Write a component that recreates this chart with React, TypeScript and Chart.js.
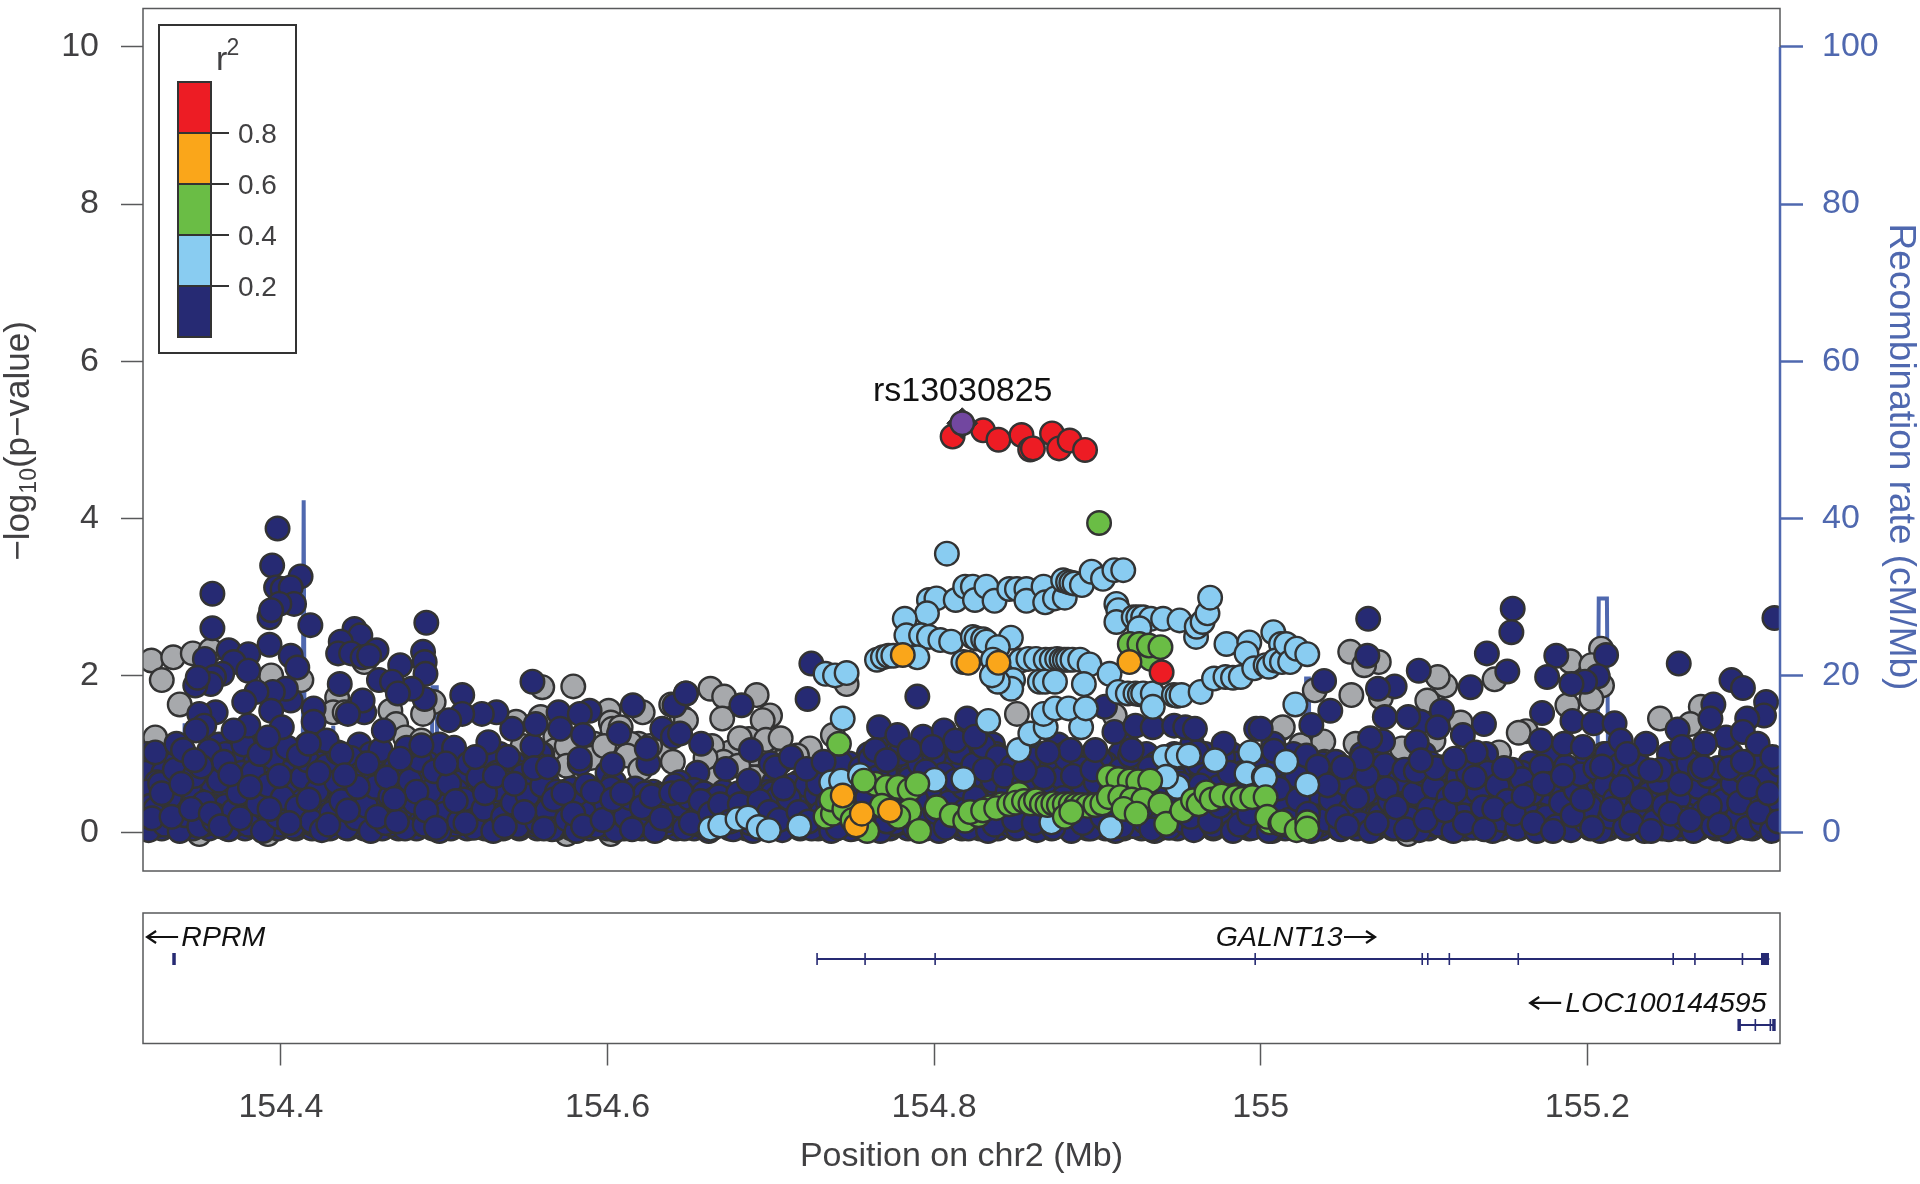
import { useEffect, useRef } from "react";
import { Chart, registerables } from "chart.js";
Chart.register(...registerables);

// positions are kb past 154 Mb, values are -log10(p)
const leadSnp = [[817.2, 5.21]];
const redSnps = [[811.3,5.04],[830,5.12],[839.4,5],[853.5,5.06],[858.8,4.875],[860.5,4.89],[872.2,5.08],[876.5,4.89],[883,4.99],[892.4,4.87],[939.3,2.04]];
const orangeSnps = [[780.8,2.26],[820.9,2.16],[839.4,2.16],[919.6,2.17],[752.2,0.09],[744,0.47],[755.7,0.24],[772.9,0.28]];
const greenSnps = [[901,3.94],[919.8,2.4],[925.7,2.4],[932.7,2.21],[931.5,2.38],[938.6,2.36],[741.7,1.13],
[733.5,0.2],[738,0.24],[737,0.42],[745,0.3],[750,0.16],[759,0.02],[764,0.62],[757,0.66],[771,0.58],[778,0.58],[785,0.54],[789.7,0.62],[785,0.28],[790.9,0.02],[768,0.34],[778,0.2],
[801.5,0.32],[810.8,0.22],[819,0.15],[827.2,0.22],[822,0.26],[834.3,0.32],[830,0.28],[841.3,0.36],[838,0.31],[846,0.36],[851.8,0.49],[850,0.38],[855,0.4],[859,0.37],[862.4,0.41],[866,0.36],[869.4,0.35],[873,0.37],[876.4,0.35],[880,0.36],[883.7,0.36],[887,0.35],[890.5,0.35],[894,0.34],[898.7,0.35],[903,0.37],
[906.9,0.71],[912.8,0.68],[919.8,0.66],[925,0.65],[932.3,0.66],[907,0.45],[914,0.45],[921,0.42],[928,0.41],[938.6,0.36],[916,0.3],[924,0.24],[880,0.2],[884,0.26],[942.1,0.11],[952,0.28],[958.5,0.41],[962,0.36],[966.7,0.51],[970,0.42],[976,0.47],[984.3,0.45],[989,0.43],[994.8,0.45],[1003,0.45],[1005.4,0.13],[1004,0.2],[1012,0.11],[1013,0.13],[1022,0.03],[1028.5,0.13],[1028.5,0.05]];
const lightBlueSnps = [[807.8,3.55],
[796.8,2.96],[801.4,2.98],[813.2,2.96],[819,3.13],[823.7,3.13],[825,2.96],[832,3.13],[837,2.95],[846,3.1],[850.7,3.1],[856.5,3.1],[856.5,2.95],[867,3.13],[868,2.93],[874,2.98],[880,2.99],[879,3.21],[882,3.19],[884,3.18],[886,3.17],[890.5,3.15],[896.4,3.32],[903.4,3.23],[910.4,3.34],[915.8,3.34],
[795.6,2.79],[782,2.72],[783,2.51],[792,2.51],[796.8,2.49],[803.8,2.45],[810.4,2.43],[823.7,2.49],[826,2.47],[830,2.46],[832,2.43],[847,2.48],[839,2.36],[836,2.2],
[765,2.2],[768.6,2.23],[772,2.25],[775,2.25],[789.7,2.23],[817.9,2.17],[853,2.19],[857.7,2.21],[862.4,2.21],[868.3,2.2],[872,2.2],[875.3,2.21],[878,2.2],[880,2.2],[882,2.2],[884.7,2.2],[889.4,2.2],[895.2,2.14],[907.4,2.02],
[848.3,1.94],[847.2,1.83],[839,1.92],[835.4,2],[864.7,1.92],[868,1.92],[874,1.92],[891.7,1.89],
[911.6,2.91],[912.8,2.83],[911.6,2.68],[922.2,2.74],[925,2.74],[928,2.74],[932.7,2.72],[940.2,2.72],[950.3,2.7],[960.4,2.49],[960.8,2.62],[964.4,2.68],[967.4,2.79],[969,2.99],[925.7,2.6],[979,2.4],[993,2.42],[1007.7,2.55],[1012.4,2.4],[991.3,2.28],
[733.5,2.02],[739.3,2],[746.4,2.03],[744,1.45],
[833.1,1.42],[851.8,1.05],[858.9,1.26],[868.3,1.34],[890,1.34],[867,1.51],[874.1,1.58],[882.3,1.58],[892.9,1.58],
[912.8,1.79],[918.6,1.77],[923.3,1.77],[926,1.76],[928,1.77],[933.9,1.77],[933.9,1.6],[946.8,1.75],[949,1.74],[951.5,1.75],[963.2,1.79],[971.4,1.96],[978.4,1.98],[983,1.97],[987.8,1.98],[996,2.09],[1003,2.13],[1005,2.11],[1009,2.19],[1013,2.17],[1015.6,2.4],[1018,2.17],[1022,2.34],[1028.5,2.27],[1021.2,1.63],
[817.9,0.68],[800.3,0.67],[941,0.96],[949,0.98],[956,0.98],[972,0.92],[993.6,1.02],[991.3,0.75],[1001.9,0.71],[949,0.58],[942,0.71],[1015.6,0.9],[1002.7,0.7],[1028.5,0.61],
[737,0.64],[743,0.66],[754.6,0.73],
[663,0.05],[669,0.09],[679.6,0.17],[686,0.19],[692.5,0.07],[698.8,0.03],[717.5,0.08],[908.1,0.06],[871.8,0.13]];
const navyUpper = [[397.9,3.87],[394.6,3.4],[412,3.26],[397,3.12],[401,3.1],[406,3.12],[408,2.91],[399,2.91],[393,2.74],[394,2.83],[418,2.64],[358,3.04],[358,2.6],[393,2.39],[406,2.25],[410,2.1],[353.4,2.21],[368,2.32],[380,2.27],[371,2.17],[380,2.06],[364,2.02],[359,1.98],[357,1.89],[347.5,1.87],[349,1.97],[436,1.89],[445,2.59],[448.6,2.51],[436.6,2.43],[435,2.28],[443,2.28],[450,2.23],[458.5,2.32],[454,2.25],[460,1.94],[489,2.67],[487,2.3],[488,2.17],[488.5,2.02],[488,1.7],[480,1.83],[473,2.13],[468,1.92],[471.6,1.77],[511,1.75],[554,1.92],[615.5,1.62],[648,1.77],[641,1.62],[589,1.55],[570,1.53],[583,1.51],[541.6,1.32],[532,1.53],[556,1.38],[571,1.32],[585,1.24],[607,1.26],[624,1.07],[633.5,1.32],[640,1.22],[603,0.87],[563.5,0.83],[583,0.94],[523,1.51],[511,1.51],[503,1.43],[486,1.11],[473,0.94],[463,1.3],[451,1.53],[450,1.68],[441,1.51],[420,1.58],[420,1.41],[406,1.68],[403,1.83],[395,1.79],[385,1.79],[377.5,1.66],[360,1.53],[350,1.51],[353,1.36],[348,1.3],[394,1.55],[380,1.36],[371,1.3],[400.5,1.34],[392,1.21],[428,1.17],[437,1],[417,1.13],[323,1.02],[336,1.13],[340,1.05],[347,0.92],[439,0.73],[469.4,0.43],
[724.8,2.15],[722.5,1.7],[789.7,1.73],[648,1.77],[682,1.62],[657.3,1.13],[644.4,1.26],[687.8,1.05],[672.5,0.81],[686.6,0.66],[703,0.83],[712.4,0.96],[721.8,0.81],[732.3,0.9],[707.7,0.56],[766.3,1.34],[777.5,1.24],[793.2,1.22],[806,1.3],[820.2,1.45],[764,1.05],[771,0.92],[785,1.05],[799,1.09],[813,1.17],[825,1.22],[904.6,1.6],[910.4,1.28],[923.3,1.36],[933.9,1.34],[947,1.36],[953.8,1.34],[959.7,1.32],[997.2,1.32],[921,1.05],[898.7,1.05],[883.5,1.05],[869.6,1.02],[855.4,0.79],[977.3,1.13],[1007.7,1.13],[961,1.02],
[1065.8,2.72],[1065.3,2.25],[1038.8,1.93],[1096.8,2.06],[1082,1.86],[1071.8,1.83],[1042.6,1.55],[1076,1.47],[1031,1.37],[1154.3,2.85],[1153.5,2.55],[1138.5,2.28],[1151,2.05],[1128.5,1.85],[1181,2.25],[1175.4,1.98],[1211.5,2.26],[1206.4,1.99],[1198.6,1.92],[1190.3,1.89],[1172.3,1.52],[1190.9,1.42],[1203.8,1.39],[1216.7,1.39],[1256,2.15],[1288.3,1.94],[1295.3,1.84],[1309.5,1.66],[1308.2,1.49],[1297.9,1.45],[1277.2,1.63],[1275.4,1.45],[1255.3,1.31],[1111,1.55],[1098,1.41],[1108.4,1.34],[1090.3,1.47],[1136.7,1.38],[1123.8,1.24],[1074.9,1.16],[1067,1.2],[1095.5,1.15],[1098,0.92],[1131.6,1.02],[1118.7,0.94],[1171.5,1.17],[1185.7,1.13],[1197.3,1.09],[1220.5,1.17],[1236,1.13],[1224.4,1],[1285,1.21],[1295.3,1.28],[1304.3,1.13],[1313.3,0.96],[1272,1.13],[1257.9,1.09],[1295.3,0.9],[1270.8,0.83],[1238.6,0.79],[1062,0.94],[1050.4,0.83],[1008,1.04],[1000,1.32],[1314.6,2.73]];
const navyBand = [
[319,.03],[323,.3],[326,.62],[329,.1],[332,.45],[335,.8],[338,.02],[341,.22],[344,.58],[347,.72],[350,.08],[353,.38],[356,1.04],[359,.15],[362,.66],[365,.9],[368,.04],[371,.28],[374,.5],[377,1.12],[380,.1],[383,.77],[386,.36],[389,.02],[392,.6],[395,.95],[398,.2],[401,.44],[404,1.08],[407,.07],[410,.32],[413,.7],[416,.92],[419,.14],[422,.53],[425,.03],[428,.85],[431,.25],[434,.64],[437,.4],[440,.06],[443,.95],[446,.18],[449,.75],[452,.34],[455,.02],[458,.58],[461,1.05],[464,.12],[467,.46],[470,.82],[473,.28],[476,.05],[479,.66],[482,.38],[485,.92],[488,.1],[491,.52],[494,.78],[497,.02],[500,.24],[503,.62],[506,1.08],[509,.14],[512,.42],[515,.88],[518,.06],[521,.7],[524,.3],[527,1.15],[530,.02],[533,.55],[536,.2],[539,.96],[542,.38],[545,.08],[548,.72],[551,.47],[554,1.1],[557,.13],[560,.6],[563,.28],[566,.04],[569,.52],[572,.4],[575,.17],[578,.56],[581,.02],[584,.5],[587,.6],[590,.26],[593,.08],[596,.46],[599,.36],[602,.56],[605,.03],[608,.44],[611,.2],[614,.44],[617,.56],[620,.1],[623,.5],[626,.3],[629,.02],[632,.48],[635,.48],[638,.16],[641,.6],[644,.34],[647,.05],[650,.44],[653,.54],[656,.22],[659,.5],[662,.02],[665,.42],[668,.46],[671,.12],[674,.3],[677,.04],[680,.5],[683,.2],[686,.38],[689,.02],[692,.46],[695,.27],[698,.1],[701,.5],[704,.44],[707,.03],[710,.22],[713,.6],[716,.12],[719,.36],[722,.6],[725,.05],[728,.48],[731,.25],[734,.74],[737,.02],[740,.14],[743,.88],[746,.32],[749,.04],[752,.52],[755,.82],[758,.18],[761,.94],[764,.3],[767,.02],[770,.76],[773,.46],[776,.12],[779,1],[782,.34],[785,.68],[788,.06],[791,.88],[794,.24],[797,.5],[800,.98],[803,.02],[806,.74],[809,.38],[812,.13],[815,1.02],[818,.58],[821,.05],[824,.86],[827,.3],[830,1.1],[833,.02],[836,.66],[839,.96],[842,.2],[845,.52],[848,.84],[851,.06],[854,.3],[857,.62],[860,.94],[863,.03],[866,.24],[869,.56],[872,.86],[875,.12],[878,.7],[881,.94],[884,.02],[887,.52],[890,.82],[893,.22],[896,.05],[899,.64],[902,.9],[905,.16],[908,.5],[911,.02],[914,.8],[917,.24],[920,.98],[923,.08],[926,.54],[929,.14],[932,.82],[935,.02],[938,.22],[941,.5],[944,.06],[947,.72],[950,.96],[953,.14],[956,.58],[959,.03],[962,.88],[965,.28],[968,.7],[971,.08],[974,.58],[977,.96],[980,.2],[983,.02],[986,.72],[989,.3],[992,.56],[995,.06],[998,.88],[1001,.24],[1004,.62],[1007,.02],[1010,.8],[1013,.36],[1016,.6],[1019,.08],[1022,.72],[1025,.28],[1028,.98],[1031,.02],[1034,.5],[1037,.78],[1040,.16],[1043,.42],[1046,.9],[1049,.04],[1052,.62],[1055,.3],[1058,.84],[1061,.12],[1064,.5],[1067,.02],[1070,.74],[1073,.22],[1076,.86],[1079,.4],[1082,.06],[1085,.66],[1088,.8],[1091,.18],[1094,.5],[1097,.03],[1100,.74],[1103,.3],[1106,.58],[1109,.1],[1112,.82],[1115,.44],[1118,.02],[1121,.7],[1124,.22],[1127,.76],[1130,.06],[1133,.52],[1136,.32],[1139,.76],[1142,.02],[1145,.6],[1148,.16],[1151,.4],[1154,.8],[1157,.05],[1160,.68],[1163,.28],[1166,.5],[1169,.02],[1172,.84],[1175,.2],[1178,.62],[1181,.08],[1184,.38],[1187,.84],[1190,.03],[1193,.54],[1196,.74],[1199,.14],[1202,.32],[1205,.82],[1208,.02],[1211,.6],[1214,.2],[1217,.42],[1220,.86],[1223,.06],[1226,.7],[1229,.26],[1232,.84],[1235,.02],[1238,.5],[1241,.14],[1244,.64],[1247,.34],[1250,.04],[1253,.78],[1256,.44],[1259,.18],[1262,.88],[1265,.02],[1268,.58],[1271,.26],[1274,.72],[1277,.08],[1280,.82],[1283,.4],[1286,.02],[1289,.62],[1292,.2],[1295,.78],[1298,.06],[1301,.48],[1304,.84],[1307,.14],[1310,.7],[1313,.02],[1316,.42],[1318,.86],
[321,.18],[327,.5],[333,.2],[339,.62],[345,.3],[351,.84],[357,.24],[363,.08],[369,.74],[375,.18],[381,.58],[387,1],[393,.3],[399,.72],[405,.12],[411,.98],[417,.42],[423,.76],[429,.1],[435,1.02],[441,.28],[447,.58],[453,.88],[459,.2],[465,.7],[471,.14],[477,1.08],[483,.52],[489,.28],[495,.06],[501,.88],[507,.4],[513,.12],[519,.96],[525,.5],[531,.72],[537,.08],[543,.62],[549,.26],[555,.82],[561,.05],[567,.42],[573,.5],[579,.24],[585,.08],[591,.52],[597,.16],[603,.42],[609,.5],[615,.04],[621,.32],[627,.46],[633,.18],[639,.5],[645,.52],[651,.12],[657,.4],[663,.24],[669,.36],[675,.14],[681,.36],[687,.12],[693,.4],[699,.26],[705,.16],[711,.44],[717,.26],[723,.14],[729,.62],[735,.38],[741,.06],[747,.6],[753,.2],[759,.44],[765,.7],[771,.14],[777,.56],[783,.22],[789,.42],[795,.78],[801,.26],[807,.06],[813,.66],[819,.28],[825,.44],[831,.8],[837,.1],[843,.72],[849,.16],[855,.62],[861,.12],[867,.7],[873,.06],[879,.44],[885,.72],[891,.12],[897,.8],[903,.2],[909,.62],[915,.08],[921,.66],[927,.3],[933,.04],[939,.64],[945,.3],[951,.62],[957,.2],[963,.6],[969,.14],[975,.34],[981,.76],[987,.1],[993,.24],[999,.62],[1005,.02],[1011,.56],[1017,.16],[1023,.42],[1029,.24],[1035,.84],[1041,.6],[1047,.2],[1053,.08],[1059,.44],[1065,.72],[1071,.12],[1077,.56],[1083,.32],[1089,.04],[1095,.78],[1101,.16],[1107,.82],[1113,.28],[1119,.52],[1125,.12],[1131,.7],[1137,.04],[1143,.3],[1149,.82],[1155,.24],[1161,.46],[1167,.12],[1173,.62],[1179,.02],[1185,.72],[1191,.22],[1197,.42],[1203,.06],[1209,.84],[1215,.3],[1221,.58],[1227,.12],[1233,.42],[1239,.02],[1245,.8],[1251,.24],[1257,.62],[1263,.16],[1269,.8],[1275,.34],[1281,.1],[1287,.82],[1293,.38],[1299,.58],[1305,.26],[1311,.5],[1317,.14]];
// extra navy SNPs at each of these -log10(p) levels, listed by position
const navyLevels = [1.12, 1.0, 0.88, 0.76, 0.64, 0.52, 0.4, 0.28, 0.16, 0.05, 0.34, 0.22, 0.1];
const navyAtLevels = [
[362,390,416,448,497,772,802,836,876,918,958],
[318,341,366,379,404,427,455,480,506,534,559,760,776,790,806,822,838,851,866,880,897,914,930,947,966,982,1020,1062,1100,1138,1176,1212,1250,1288],
[322,335,347,360,373,384,398,411,424,438,451,463,476,490,503,517,530,543,556,583,625,700,732,748,763,779,794,809,826,842,858,873,889,905,921,936,953,970,986,1003,1038,1071,1104,1133,1165,1199,1231,1263,1294],
[317,328,340,354,365,376,391,403,415,428,442,454,467,479,493,505,518,532,546,558,600,655,726,741,755,771,786,800,815,831,847,862,878,893,909,925,941,956,972,989,1005,1021,1036,1051,1068,1083,1098,1113,1128,1144,1160,1174,1191,1207,1222,1237,1254,1269,1284,1299,1314],
[324,336,349,358,371,383,395,408,421,433,445,458,472,484,498,510,524,537,551,563,604,644,702,717,731,746,761,776,791,806,822,837,852,868,884,899,915,931,946,962,977,993,1009,1025,1040,1056,1073,1089,1105,1121,1136,1151,1168,1184,1200,1217,1233,1248,1264,1281,1296,1311],
[318,331,343,356,368,380,393,406,418,431,443,456,469,482,495,508,521,535,549,561,574,587,601,615,628,642,656,671,685,699,714,728,743,758,773,788,803,819,834,849,865,881,896,912,927,943,959,975,990,1006,1022,1038,1054,1070,1086,1102,1118,1134,1150,1166,1182,1198,1214,1230,1245,1261,1277,1293,1308,1318],
[325,338,350,363,375,388,400,413,425,437,450,463,477,489,502,515,528,541,554,568,581,594,607,621,635,648,662,677,691,705,720,735,750,765,780,796,811,827,842,857,873,888,904,920,935,951,967,982,998,1014,1030,1046,1062,1078,1094,1110,1126,1142,1158,1174,1190,1206,1222,1238,1254,1270,1286,1302,1316],
[319,332,345,357,370,382,394,407,420,432,446,459,471,485,499,511,525,538,552,565,578,592,605,618,632,646,660,674,689,703,718,733,748,763,778,793,808,824,840,855,871,886,902,917,933,949,965,980,996,1012,1028,1044,1060,1076,1092,1108,1124,1140,1156,1172,1188,1204,1220,1236,1252,1268,1284,1300,1314],
[323,336,348,361,374,386,399,411,424,436,449,461,474,487,500,513,526,539,553,566,579,593,608,622,636,649,664,678,692,707,722,736,751,766,781,797,812,828,843,859,874,890,905,921,937,952,968,984,999,1015,1031,1047,1063,1079,1095,1111,1127,1143,1159,1175,1191,1207,1223,1239,1255,1271,1287,1303,1317],
[318,327,337,346,356,367,378,388,398,409,419,430,441,451,462,472,483,493,504,514,525,536,546,557,568,578,589,600,610,621,632,642,653,664,675,685,696,707,718,729,740,751,762,773,784,795,806,817,828,839,850,861,872,883,894,905,916,927,938,949,960,971,982,993,1004,1015,1026,1037,1048,1059,1070,1081,1092,1103,1114,1125,1136,1147,1158,1169,1180,1191,1202,1213,1224,1235,1246,1257,1268,1279,1290,1301,1312],
[320,329,339,347,358,366,377,386,396,405,416,426,434,445,453,464,474,481,492,501,512,522,530,541,551,560,571,580,591,601,609,620,630,639,650,660,668,680,690,698,709,719,727,739,749,756,769,779,787,798,809,816,828,838,846,858,868,876,887,898,906,918,928,936,948,959,966,978,988,996,1008,1019,1027,1038,1049,1057,1068,1079,1087,1098,1109,1117,1128,1139,1147,1158,1169,1177,1188,1199,1207,1218,1229,1237,1248,1259,1267,1278,1289,1297,1308,1317],
[322,331,341,350,360,369,379,389,397,408,417,428,437,447,456,467,476,486,495,506,515,526,534,545,554,563,574,583,594,603,613,623,632,642,652,663,671,682,692,701,712,721,731,741,750,760,771,781,790,800,811,820,831,841,850,861,871,880,890,901,910,921,931,940,951,961,970,981,991,1000,1011,1021,1030,1041,1051,1060,1071,1081,1090,1101,1111,1120,1131,1141,1150,1161,1171,1180,1191,1201,1210,1221,1231,1240,1251,1261,1270,1281,1291,1300,1311],
[318,326,335,344,353,362,372,381,391,400,410,420,429,439,448,458,468,478,487,497,507,517,527,537,547,556,566,576,586,596,606,616,626,636,646,656,666,676,686,696,706,716,726,736,746,756,766,776,786,796,806,816,826,836,846,856,866,876,886,896,906,916,926,936,946,956,966,976,986,996,1006,1016,1026,1036,1046,1056,1066,1076,1086,1096,1106,1116,1126,1136,1146,1156,1166,1176,1186,1196,1206,1216,1226,1236,1246,1256,1266,1276,1286,1296,1306,1316]
];
const graySnps = [[320.6,2.19],[334,2.23],[346,2.28],[357,2.32],[327,1.94],[338,1.63],[394,2],[412.5,1.94],[560,1.85],[579,1.86],[600.7,1.55],[621.5,1.53],[639,1.63],[645.5,1.47],[434.4,1.72],[432,1.53],[439,1.53],[467,1.55],[470.5,1.38],[451,2.17],[476,1.21],[493.5,1.66],[487,1.51],[486,1.17],[323,1.21],[329,0.85],[385,1.07],[544,1.41],[559,1.47],[568,1.22],[568,1.05],[602,1.4],[603,1.32],[608,1.34],[619,1.13],[634.6,1],[592,1.13],[598.5,1],[614,1.13],
[746.4,1.89],[663,1.83],[671.4,1.73],[691.3,1.75],[670.2,1.45],[699.5,1.49],[695,1.43],[648,1.43],[850.7,1.51],[910.6,1.49],[1012,1.32],[724,1.07],[686.6,1.19],[679.6,1.07],[675,1.02],[702,1.1],[703,1.02],[738,1.24],[665.5,0.75],[696,0.75],
[664,1.1],[681,1.2],[690,1],[697,1.18],[706,1.2],[716,0.98],[706,0.9],[671,0.9],[690,0.7],[560,1],[575,1.1],[590,0.95],[598,1.1],[612,0.98],[626,1.1],[533,0.9],[548,1.1],[478,1.05],[420,0.9],[575,0.85],[620,0.8],[640,0.9],[660,0.95],[680,0.85],[350,-0.02],[392,-0.02],[575,-0.02],[602,-0.02],[1090,-0.02],
[1054.8,2.3],[1072.3,2.17],[1063.3,2.13],[1033.1,1.81],[1055.5,1.75],[1113,1.87],[1108.4,1.98],[1143.2,1.95],[1189.6,2.18],[1208.4,2.34],[1202.5,2.13],[1209,1.87],[1202.5,1.7],[1187.8,1.62],[1102,1.68],[1073.6,1.72],[1013.5,1.34],[1024.6,1.11],[1038.3,1.16],[1058.1,1.13],[1086.5,1.07],[1122.5,1.4],[1162.5,1.29],[1158,1.27],[1244.5,1.45],[1269.5,1.6],[1263,1.38],[1146,1.02],[1105.8,1.17],[1109.7,0.83],[1039,0.9],[1210.2,1],[1154.8,0.58]];
const recombKb = [316,340,341,342,370,413.2,413.9,414.6,431,432,433,460,492,492.8,495.4,496,560,800,1000,1027,1027.8,1029.5,1030,1120,1206,1207,1212,1213,1260,1318];
const recombRate = [0.4,0.6,13.9,0.6,0.3,0.6,42.3,0.6,0.4,13.6,0.4,0.2,0.4,18.5,18.5,0.4,0.3,0.2,0.2,0.4,19.6,19.6,0.4,0.2,0.4,29.8,29.8,0.4,0.2,0.2];

const geneNames = ["RPRM", "GALNT13", "LOC100144595"];
const galntExons = [728.3,757.7,800.6,996.6,1098.9,1102.3,1115.5,1157.7,1252.6,1265.9,1295];
const locExons = [1302.9,1312.1];

const pValueTicks = [0,2,4,6,8,10];
const rateTicks = [0,20,40,60,80,100];
const positionTicks = [154.4,154.6,154.8,155,155.2];
const legendBands = ["#262A73","#89CCF1","#6ABD45","#FAA61A","#ED1C24"];
const legendLabels = ["0.2","0.4","0.6","0.8"];

const FONT = '"Liberation Sans", Arial, sans-serif';
const TEXT = "#414042";
const BLUE = "#4F68AF";
const EDGE = "#333333";
const BOX = "#58595B";
const X_MIN = 154.3155;
const X_MAX = 155.318;

const toPoints = (rows: number[][]) => rows.map(([kb, p]) => ({ x: 154 + kb / 1000, y: p }));
const navyFromLevels = navyAtLevels.flatMap((kbs, i) => kbs.map((kb) => [kb, navyLevels[i]]));

function dots(label: string, rows: number[][], colour: string, extra: object = {}) {
  return { label, data: toPoints(rows), backgroundColor: colour, borderColor: EDGE, borderWidth: 2.4, pointRadius: 11.8, showLine: false, yAxisID: "y", ...extra };
}

const mainPlugin = {
  id: "mainDecor",
  afterDatasetsDraw(chart: any) {
    const { ctx, chartArea: a, scales } = chart;
    ctx.save();
    ctx.strokeStyle = BOX;
    ctx.lineWidth = 1.5;
    ctx.strokeRect(a.left, a.top, a.width, a.height);
    const y2 = scales.y2;
    ctx.strokeStyle = BLUE;
    ctx.lineWidth = 2.5;
    ctx.beginPath();
    ctx.moveTo(a.right, y2.getPixelForValue(100));
    ctx.lineTo(a.right, y2.getPixelForValue(0));
    ctx.stroke();

    // lead SNP label
    const lx = scales.x.getPixelForValue(154 + leadSnp[0][0] / 1000);
    const ly = scales.y.getPixelForValue(leadSnp[0][1]);
    ctx.fillStyle = "#111111";
    ctx.font = `34px ${FONT}`;
    ctx.textAlign = "center";
    ctx.textBaseline = "middle";
    ctx.fillText("rs13030825", lx + 0.5, ly - 32);

    // r2 legend
    const left = 178, w = 33, top = 82, band = 51;
    ctx.strokeStyle = EDGE;
    ctx.lineWidth = 2;
    ctx.strokeRect(159, 25, 137, 328);
    legendBands.slice().reverse().forEach((c, i) => {
      ctx.fillStyle = c;
      ctx.fillRect(left, top + i * band, w, band);
      ctx.strokeRect(left, top + i * band, w, band);
    });
    ctx.fillStyle = TEXT;
    ctx.font = `28px ${FONT}`;
    ctx.textAlign = "left";
    legendLabels.slice().reverse().forEach((t, i) => {
      const yy = top + (i + 1) * band;
      ctx.beginPath();
      ctx.moveTo(left + w, yy);
      ctx.lineTo(229, yy);
      ctx.stroke();
      ctx.fillText(t, 238, yy + 2);
    });
    ctx.textBaseline = "alphabetic";
    ctx.font = `34px ${FONT}`;
    ctx.fillText("r", 216, 70);
    ctx.font = `23px ${FONT}`;
    ctx.fillText("2", 226.5, 55);

    // left axis title with subscript
    ctx.save();
    ctx.translate(29, 441);
    ctx.rotate(-Math.PI / 2);
    ctx.fillStyle = TEXT;
    const big = `35px ${FONT}`, small = `23px ${FONT}`;
    const p1 = "\u2212log", p2 = "10", p3 = "(p\u2212value)";
    ctx.font = big;
    const w1 = ctx.measureText(p1).width, w3 = ctx.measureText(p3).width;
    ctx.font = small;
    const w2 = ctx.measureText(p2).width;
    let cx = -(w1 + w2 + w3) / 2;
    ctx.font = big;
    ctx.fillText(p1, cx, 0);
    cx += w1;
    ctx.font = small;
    ctx.fillText(p2, cx, 7);
    cx += w2;
    ctx.font = big;
    ctx.fillText(p3, cx, 0);
    ctx.restore();

    // right axis title
    ctx.save();
    ctx.translate(1890, 457);
    ctx.rotate(Math.PI / 2);
    ctx.fillStyle = BLUE;
    ctx.font = `37px ${FONT}`;
    ctx.textAlign = "center";
    ctx.fillText("Recombination rate (cM/Mb)", 0, 0);
    ctx.restore();
    ctx.restore();
  },
};

const genePlugin = {
  id: "geneDecor",
  afterDatasetsDraw(chart: any) {
    const { ctx, chartArea: a, scales } = chart;
    const px = (kb: number) => scales.x.getPixelForValue(154 + kb / 1000);
    const py = (v: number) => scales.y.getPixelForValue(v);
    ctx.save();
    ctx.strokeStyle = BOX;
    ctx.lineWidth = 1.5;
    ctx.strokeRect(a.left, a.top, a.width, a.height);
    const arrow = (x0: number, x1: number, y: number) => {
      const dir = x1 > x0 ? 1 : -1;
      ctx.strokeStyle = "#111111";
      ctx.lineWidth = 2.2;
      ctx.beginPath();
      ctx.moveTo(x0, y);
      ctx.lineTo(x1, y);
      ctx.moveTo(x1 - dir * 9, y - 6);
      ctx.lineTo(x1, y);
      ctx.lineTo(x1 - dir * 9, y + 6);
      ctx.stroke();
    };
    ctx.fillStyle = "#111111";
    ctx.font = `italic 28.5px ${FONT}`;
    ctx.textBaseline = "middle";
    ctx.textAlign = "left";
    const upper = py(0.6475) - 22, lower = py(0.142) - 22;
    ctx.fillText(geneNames[0], px(339), upper + 1);
    arrow(px(337), px(318), upper);
    ctx.fillText(geneNames[1], px(972.5), upper + 1);
    arrow(px(1051), px(1070), upper);
    ctx.fillText(geneNames[2], px(1186.5), lower + 1);
    arrow(px(1184), px(1165), lower);
    ctx.restore();
  },
};

function geneLine(rows: number[][], lane: number) {
  return { data: rows.map(([kb]) => ({ x: 154 + kb / 1000, y: lane })), showLine: true, borderColor: "#262A73", borderWidth: 2, pointRadius: 0 };
}
function exons(kbs: number[], lane: number, width: number) {
  return {
    data: kbs.map((kb) => ({ x: 154 + kb / 1000, y: lane })),
    showLine: false, pointStyle: "line", pointRotation: 90, pointRadius: 6,
    borderColor: "#262A73", pointBorderColor: "#262A73", pointBorderWidth: width, borderWidth: width,
  };
}

export default function App() {
  const mainRef = useRef<HTMLCanvasElement>(null);
  const geneRef = useRef<HTMLCanvasElement>(null);

  useEffect(() => {
    const tickFont = { family: FONT, size: 34 };
    const main = new Chart(mainRef.current as HTMLCanvasElement, {
      type: "scatter",
      plugins: [mainPlugin],
      data: {
        datasets: [
          dots("lead", leadSnp, "#7247A0"),
          dots("lead tip", leadSnp, "#333333", { pointStyle: "rectRot", pointRadius: 15.5, borderWidth: 1 }),
          dots("0.8-1", redSnps, "#ED1C24"),
          dots("0.6-0.8", orangeSnps, "#FAA61A"),
          dots("0.4-0.6", greenSnps, "#6ABD45"),
          dots("0.2-0.4", lightBlueSnps, "#89CCF1"),
          dots("0-0.2", [...navyFromLevels, ...navyBand, ...navyUpper], "#262A73"),
          dots("no LD", graySnps, "#A7A9AC"),
          {
            label: "recombination",
            data: recombKb.map((kb, i) => ({ x: 154 + kb / 1000, y: recombRate[i] })),
            showLine: true, borderColor: BLUE, borderWidth: 4, pointRadius: 0, yAxisID: "y2",
          },
        ] as any,
      },
      options: {
        responsive: false,
        animation: false,
        layout: { autoPadding: false, padding: { top: 8.5, bottom: 9, left: 0, right: 0 } },
        plugins: { legend: { display: false }, tooltip: { enabled: false } },
        scales: {
          x: { type: "linear", min: X_MIN, max: X_MAX, display: false },
          y: {
            position: "left", min: -0.49, max: 10.49,
            afterBuildTicks: (s: any) => { s.ticks = pValueTicks.map((value) => ({ value })); },
            afterFit: (s: any) => { s.width = 143; s.paddingTop = 0; s.paddingBottom = 0; },
            border: { display: false },
            grid: { drawOnChartArea: false, drawTicks: true, tickLength: 22, tickWidth: 1.5, tickColor: BOX },
            ticks: { font: tickFont, color: TEXT, padding: 22, callback: (v: any) => String(v) },
          },
          y2: {
            position: "right", min: -4.9, max: 104.9,
            afterBuildTicks: (s: any) => { s.ticks = rateTicks.map((value) => ({ value })); },
            afterFit: (s: any) => { s.width = 140; s.paddingTop = 0; s.paddingBottom = 0; },
            border: { display: false },
            grid: { drawOnChartArea: false, drawTicks: true, tickLength: 23, tickWidth: 2.5, tickColor: BLUE },
            ticks: { font: tickFont, color: BLUE, padding: 19, callback: (v: any) => String(v) },
          },
        },
      } as any,
    });

    const gene = new Chart(geneRef.current as HTMLCanvasElement, {
      type: "scatter",
      plugins: [genePlugin],
      data: {
        datasets: [
          exons([334.5], 0.6475, 3.5),
          geneLine([[728.3],[1311.5]], 0.6475),
          exons(galntExons, 0.6475, 1.6),
          exons([1308.8], 0.6475, 8),
          geneLine([[1293],[1314.5]], 0.142),
          exons(locExons, 0.142, 1.6),
          exons([1293,1314.3], 0.142, 3.5),
        ] as any,
      },
      options: {
        responsive: false,
        animation: false,
        layout: { autoPadding: false, padding: { top: 33, left: 143, right: 140, bottom: 0 } },
        plugins: { legend: { display: false }, tooltip: { enabled: false } },
        scales: {
          x: {
            type: "linear", min: X_MIN, max: X_MAX,
            afterBuildTicks: (s: any) => { s.ticks = positionTicks.map((value) => ({ value })); },
            afterFit: (s: any) => { s.height = 140.5; },
            border: { display: false },
            grid: { drawOnChartArea: false, drawTicks: true, tickLength: 22, tickWidth: 1.5, tickColor: BOX },
            ticks: { font: tickFont, color: TEXT, padding: 22, maxRotation: 0, autoSkip: false, callback: (v: any) => String(Number(v)) },
            title: { display: true, text: "Position on chr2 (Mb)", color: TEXT, font: { family: FONT, size: 34 }, padding: { top: 7, bottom: 7 } },
          },
          y: { min: 0, max: 1, display: false },
        },
      } as any,
    });

    return () => {
      main.destroy();
      gene.destroy();
    };
  }, []);

  return (
    <div style={{ position: "absolute", left: 0, top: 0, width: 1920, height: 1184, background: "#fff", overflow: "hidden" }}>
      <canvas ref={mainRef} width={1920} height={880} style={{ position: "absolute", left: 0, top: 0, display: "block" }} />
      <canvas ref={geneRef} width={1920} height={304} style={{ position: "absolute", left: 0, top: 880, display: "block" }} />
    </div>
  );
}
